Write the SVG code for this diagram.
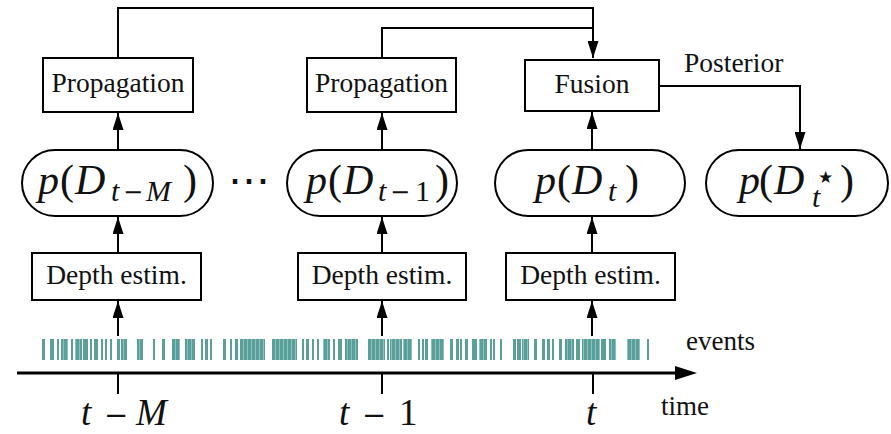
<svg xmlns="http://www.w3.org/2000/svg" width="891" height="434" viewBox="0 0 891 434">
<style>
  .box { fill: #ffffff; stroke: #000; stroke-width: 2; }
  .lbl { font-family: "Liberation Serif", serif; font-size: 27.5px; fill: #111; }
  .math { font-family: "Liberation Serif", serif; font-size: 42px; fill: #111; }
  .it { font-style: italic; }
  .sub { font-size: 30px; }
  .mn { font-family: "DejaVu Sans", sans-serif; font-style: normal; }
  .conn { fill: none; stroke: #000; stroke-width: 2; }
  .ev { fill: #5b9f99; }
  .evd { fill: url(#stripes); }
</style>
<defs>
  <marker id="ah" markerUnits="userSpaceOnUse" markerWidth="17" markerHeight="11" refX="17" refY="5.5" orient="auto">
    <path d="M0,0 L17,5.5 L0,11 z" fill="#000"/>
  </marker>
  <pattern id="stripes" patternUnits="userSpaceOnUse" width="4" height="20">
    <rect x="0" y="0" width="4" height="20" fill="#5b9f99"/>
    <rect x="3" y="0" width="1" height="20" fill="#8cc2bd"/>
  </pattern>
</defs>
<rect width="891" height="434" fill="#fff"/>

<g id="connectors">
  <path class="conn" d="M118,58 V8 H593 V58" marker-end="url(#ah)"/>
  <path class="conn" d="M382,58 V28 H593"/>
  <path class="conn" d="M659,86 H800 V149" marker-end="url(#ah)"/>
  <path class="conn" d="M118,149 V113" marker-end="url(#ah)"/>
  <path class="conn" d="M118,253 V217" marker-end="url(#ah)"/>
  <path class="conn" d="M118,336 V301" marker-end="url(#ah)"/>
  <path class="conn" d="M382,149 V113" marker-end="url(#ah)"/>
  <path class="conn" d="M382,253 V217" marker-end="url(#ah)"/>
  <path class="conn" d="M382,336 V301" marker-end="url(#ah)"/>
  <path class="conn" d="M592,149 V112" marker-end="url(#ah)"/>
  <path class="conn" d="M592,253 V217" marker-end="url(#ah)"/>
  <path class="conn" d="M592,336 V301" marker-end="url(#ah)"/>
</g>

<g id="prop1">
  <rect class="box" x="43" y="58" width="150" height="54"/>
  <text class="lbl" x="118" y="92" text-anchor="middle">Propagation</text>
</g>
<g id="prop2">
  <rect class="box" x="307" y="58" width="149" height="54"/>
  <text class="lbl" x="381.5" y="92" text-anchor="middle">Propagation</text>
</g>
<g id="fusion">
  <rect class="box" x="525" y="60" width="134" height="51"/>
  <text class="lbl" x="592" y="93" text-anchor="middle">Fusion</text>
</g>
<g id="posterior-label">
  <text class="lbl" x="684" y="72">Posterior</text>
</g>

<g id="pD_tM">
  <rect class="box" x="22" y="150" width="191" height="66" rx="33" ry="33"/>
  <text class="math" y="194"><tspan class="it" x="38">p</tspan><tspan x="60">(</tspan><tspan class="it" x="75">D</tspan><tspan class="it sub" x="111" y="201">t</tspan><tspan class="mn" x="123" y="200" style="font-size:24px">−</tspan><tspan class="it sub" x="146" y="201">M</tspan><tspan x="183" y="194">)</tspan></text>
</g>
<g id="dots">
  <text class="math" x="249" y="194" text-anchor="middle">⋯</text>
</g>
<g id="pD_t1">
  <rect class="box" x="287" y="150" width="170" height="66" rx="33" ry="33"/>
  <text class="math" y="194"><tspan class="it" x="306">p</tspan><tspan x="328">(</tspan><tspan class="it" x="343">D</tspan><tspan class="it sub" x="378" y="201">t</tspan><tspan class="mn" x="390" y="200" style="font-size:24px">−</tspan><tspan class="sub" x="415" y="201">1</tspan><tspan x="435" y="194">)</tspan></text>
</g>
<g id="pD_t">
  <rect class="box" x="495" y="150" width="190" height="66" rx="33" ry="33"/>
  <text class="math" y="194"><tspan class="it" x="535">p</tspan><tspan x="557">(</tspan><tspan class="it" x="572">D</tspan><tspan class="it sub" x="608" y="201">t</tspan><tspan x="625" y="194">)</tspan></text>
</g>
<g id="pD_tstar">
  <rect class="box" x="706" y="150" width="182" height="66" rx="33" ry="33"/>
  <text class="math" y="194"><tspan class="it" x="739">p</tspan><tspan x="759">(</tspan><tspan class="it" x="774">D</tspan><tspan class="it sub" x="812" y="207">t</tspan><tspan class="mn" x="818" y="183" style="font-size:17px">★</tspan><tspan x="840" y="194">)</tspan></text>
</g>

<g id="depth1">
  <rect class="box" x="32" y="253" width="169" height="47"/>
  <text class="lbl" x="116.5" y="284" text-anchor="middle">Depth estim.</text>
</g>
<g id="depth2">
  <rect class="box" x="298" y="253" width="168" height="47"/>
  <text class="lbl" x="382" y="284" text-anchor="middle">Depth estim.</text>
</g>
<g id="depth3">
  <rect class="box" x="506" y="253" width="169" height="47"/>
  <text class="lbl" x="590.5" y="284" text-anchor="middle">Depth estim.</text>
</g>

<g id="events">
  <g transform="translate(0,339)">
    <rect class="ev" x="42" width="3" height="21"/>
    <rect class="ev" x="50" width="4" height="21"/>
    <rect class="ev" x="57" width="2" height="21"/>
    <rect class="evd" x="61" width="7" height="21"/>
    <rect class="ev" x="71" width="2" height="21"/>
    <rect class="evd" x="75" width="7" height="21"/>
    <rect class="ev" x="83" width="5" height="21"/>
    <rect class="ev" x="90" width="2" height="21"/>
    <rect class="ev" x="94" width="4" height="21"/>
    <rect class="ev" x="101" width="2" height="21"/>
    <rect class="ev" x="105" width="2" height="21"/>
    <rect class="ev" x="110" width="2" height="21"/>
    <rect class="ev" x="117" width="3" height="21"/>
    <rect class="evd" x="121" width="6" height="21"/>
    <rect class="evd" x="137" width="6" height="21"/>
    <rect class="ev" x="153" width="2" height="21"/>
    <rect class="ev" x="162" width="3" height="21"/>
    <rect class="evd" x="172" width="8" height="21"/>
    <rect class="evd" x="185" width="10" height="21"/>
    <rect class="ev" x="201" width="2" height="21"/>
    <rect class="ev" x="205" width="3" height="21"/>
    <rect class="ev" x="210" width="2" height="21"/>
    <rect class="ev" x="223" width="3" height="21"/>
    <rect class="ev" x="230" width="2" height="21"/>
    <rect class="ev" x="235" width="3" height="21"/>
    <rect class="evd" x="240" width="25" height="21"/>
    <rect class="evd" x="272" width="25" height="21"/>
    <rect class="ev" x="302" width="2" height="21"/>
    <rect class="ev" x="306" width="3" height="21"/>
    <rect class="ev" x="312" width="2" height="21"/>
    <rect class="ev" x="317" width="2" height="21"/>
    <rect class="evd" x="323" width="7" height="21"/>
    <rect class="ev" x="333" width="2" height="21"/>
    <rect class="ev" x="338" width="4" height="21"/>
    <rect class="evd" x="345" width="13" height="21"/>
    <rect class="evd" x="368" width="17" height="21"/>
    <rect class="ev" x="387" width="2" height="21"/>
    <rect class="evd" x="390" width="12" height="21"/>
    <rect class="evd" x="403" width="9" height="21"/>
    <rect class="ev" x="418" width="2" height="21"/>
    <rect class="ev" x="422" width="2" height="21"/>
    <rect class="ev" x="425" width="3" height="21"/>
    <rect class="evd" x="431" width="13" height="21"/>
    <rect class="ev" x="450" width="3" height="21"/>
    <rect class="ev" x="456" width="3" height="21"/>
    <rect class="ev" x="460" width="2" height="21"/>
    <rect class="ev" x="465" width="3" height="21"/>
    <rect class="ev" x="472" width="5" height="21"/>
    <rect class="evd" x="479" width="8" height="21"/>
    <rect class="ev" x="490" width="2" height="21"/>
    <rect class="ev" x="493" width="2" height="21"/>
    <rect class="ev" x="500" width="2" height="21"/>
    <rect class="ev" x="513" width="3" height="21"/>
    <rect class="ev" x="517" width="4" height="21"/>
    <rect class="evd" x="522" width="7" height="21"/>
    <rect class="ev" x="534" width="3" height="21"/>
    <rect class="ev" x="542" width="3" height="21"/>
    <rect class="ev" x="547" width="3" height="21"/>
    <rect class="ev" x="552" width="2" height="21"/>
    <rect class="ev" x="559" width="3" height="21"/>
    <rect class="evd" x="565" width="9" height="21"/>
    <rect class="ev" x="576" width="4" height="21"/>
    <rect class="evd" x="582" width="18" height="21"/>
    <rect class="ev" x="601" width="5" height="21"/>
    <rect class="evd" x="609" width="7" height="21"/>
    <rect class="evd" x="627" width="13" height="21"/>
    <rect class="ev" x="647" width="2" height="21"/>
  </g>
  <text class="lbl" x="686" y="350" style="font-size:27px">events</text>
</g>

<g id="time-axis">
  <path d="M17,373 H678" stroke="#000" stroke-width="3" fill="none"/>
  <path d="M675,366 L697,373 L675,380 z" fill="#000"/>
  <path d="M118,373 V394 M382,373 V394 M593,373 V394" stroke="#000" stroke-width="2" fill="none"/>
  <text class="math" y="425" style="font-size:37px"><tspan class="it" x="81">t</tspan><tspan class="mn" x="104" style="font-size:29px">−</tspan><tspan class="it" x="136">M</tspan></text>
  <text class="math" y="425" style="font-size:37px"><tspan class="it" x="339">t</tspan><tspan class="mn" x="362" style="font-size:29px">−</tspan><tspan x="399">1</tspan></text>
  <text class="math it" x="586" y="425" style="font-size:37px">t</text>
  <text class="lbl" x="661" y="415" style="font-size:27px">time</text>
</g>
</svg>
